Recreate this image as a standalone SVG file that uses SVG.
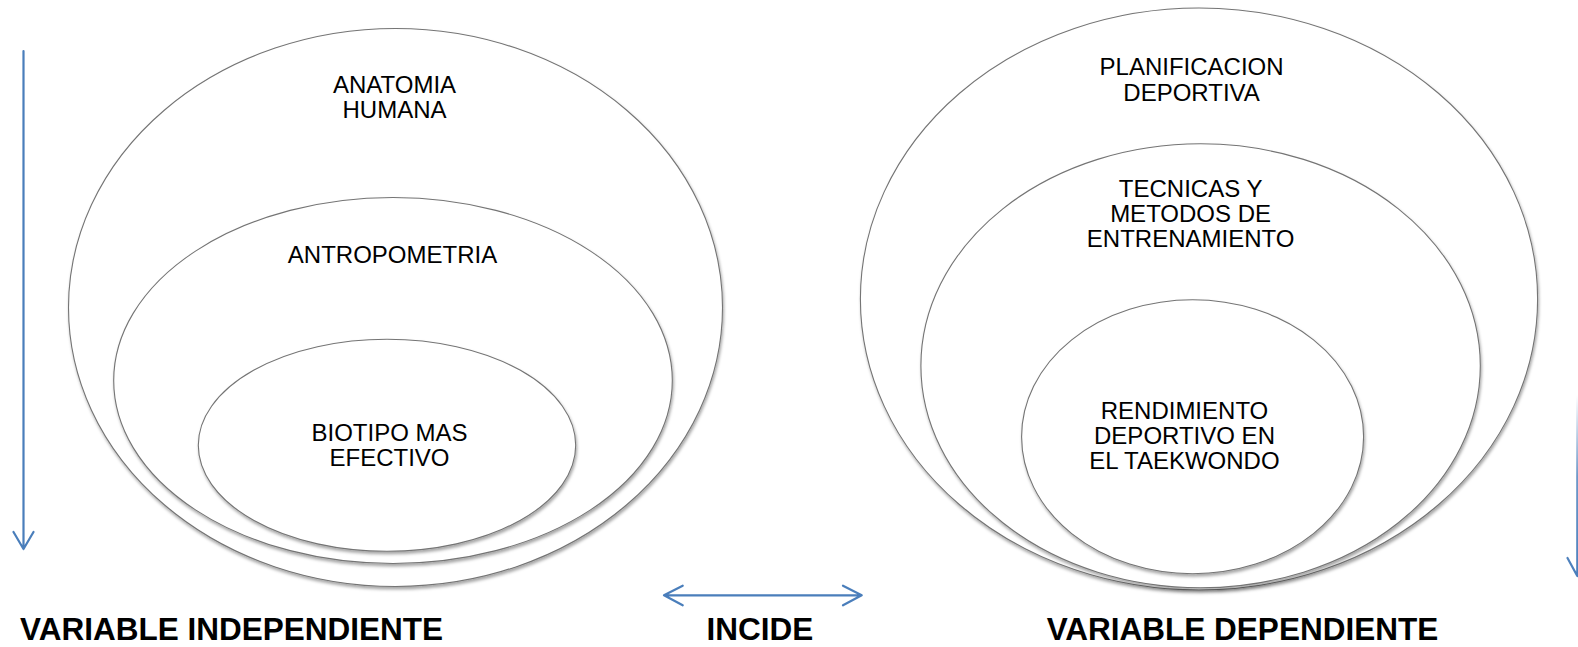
<svg xmlns="http://www.w3.org/2000/svg" width="1578" height="647" viewBox="0 0 1578 647">
  <style>
    .ring { fill: #ffffff; stroke: #747474; stroke-width: 1.1; filter: url(#soft); }
    .lbl { font-family: "Liberation Sans", Arial, sans-serif; font-size: 24px; fill: #000; text-anchor: middle; }
    .cap { font-family: "Liberation Sans", Arial, sans-serif; font-size: 31.5px; font-weight: bold; fill: #000; }
    .arr { fill: none; stroke: #4a7ebb; stroke-width: 2.2; stroke-linecap: round; stroke-linejoin: round; }
  </style>
  <defs>
    <filter id="soft" x="-5%" y="-5%" width="110%" height="112%">
      <feDropShadow dx="1" dy="2.5" stdDeviation="1.6" flood-color="#000" flood-opacity="0.35"/>
    </filter>
    <linearGradient id="fade" x1="0" y1="395" x2="0" y2="576" gradientUnits="userSpaceOnUse">
      <stop offset="0" stop-color="#4a7ebb" stop-opacity="0"/>
      <stop offset="0.45" stop-color="#4a7ebb" stop-opacity="0.8"/>
      <stop offset="1" stop-color="#4a7ebb" stop-opacity="1"/>
    </linearGradient>
  </defs>
  <rect width="1578" height="647" fill="#ffffff"/>

  <!-- independent variable: nested sets -->
  <g id="anatomia">
    <ellipse class="ring" cx="395.5" cy="307.5" rx="327" ry="279"/>
    <text class="lbl" x="394.5" y="93">ANATOMIA</text>
    <text class="lbl" x="394.5" y="118">HUMANA</text>
  </g>
  <g id="antropometria">
    <ellipse class="ring" cx="393" cy="380.5" rx="279.3" ry="183"/>
    <text class="lbl" x="392.5" y="263">ANTROPOMETRIA</text>
  </g>
  <g id="biotipo">
    <ellipse class="ring" cx="387" cy="445.3" rx="188.7" ry="106"/>
    <text class="lbl" x="389.5" y="441">BIOTIPO MAS</text>
    <text class="lbl" x="389.5" y="466">EFECTIVO</text>
  </g>

  <!-- dependent variable: nested sets -->
  <g id="planificacion">
    <ellipse class="ring" cx="1199" cy="299" rx="338.6" ry="291"/>
    <text class="lbl" x="1191.6" y="75">PLANIFICACION</text>
    <text class="lbl" x="1191.6" y="101">DEPORTIVA</text>
  </g>
  <g id="tecnicas">
    <ellipse class="ring" cx="1200.6" cy="365.8" rx="279.7" ry="222"/>
    <text class="lbl" x="1190.6" y="196.6">TECNICAS Y</text>
    <text class="lbl" x="1190.6" y="221.8">METODOS DE</text>
    <text class="lbl" x="1190.6" y="247">ENTRENAMIENTO</text>
  </g>
  <g id="rendimiento">
    <ellipse class="ring" cx="1192.6" cy="436.7" rx="171" ry="137"/>
    <text class="lbl" x="1184.5" y="419">RENDIMIENTO</text>
    <text class="lbl" x="1184.5" y="444">DEPORTIVO EN</text>
    <text class="lbl" x="1184.5" y="469">EL TAEKWONDO</text>
  </g>

  <!-- captions -->
  <g id="captions">
    <text class="cap" x="20" y="640">VARIABLE INDEPENDIENTE</text>
    <text class="cap" x="760" y="640" text-anchor="middle">INCIDE</text>
    <text class="cap" x="1046.7" y="640">VARIABLE DEPENDIENTE</text>
  </g>

  <!-- connectors -->
  <g id="connectors">
    <path class="arr" d="M23.5 51 V549 M13.5 532 L23.5 549 L33.5 532"/>
    <path class="arr" d="M664 595.3 H861.7 M682.7 585.7 L664 595.3 L682.7 605.3 M843 585.7 L861.7 595.3 L843 605.3"/>
    <path d="M1577.3 395 V576 M1567.5 558 L1577.3 576" fill="none" stroke="url(#fade)" stroke-width="2.2" stroke-linecap="round"/>
  </g>
</svg>
